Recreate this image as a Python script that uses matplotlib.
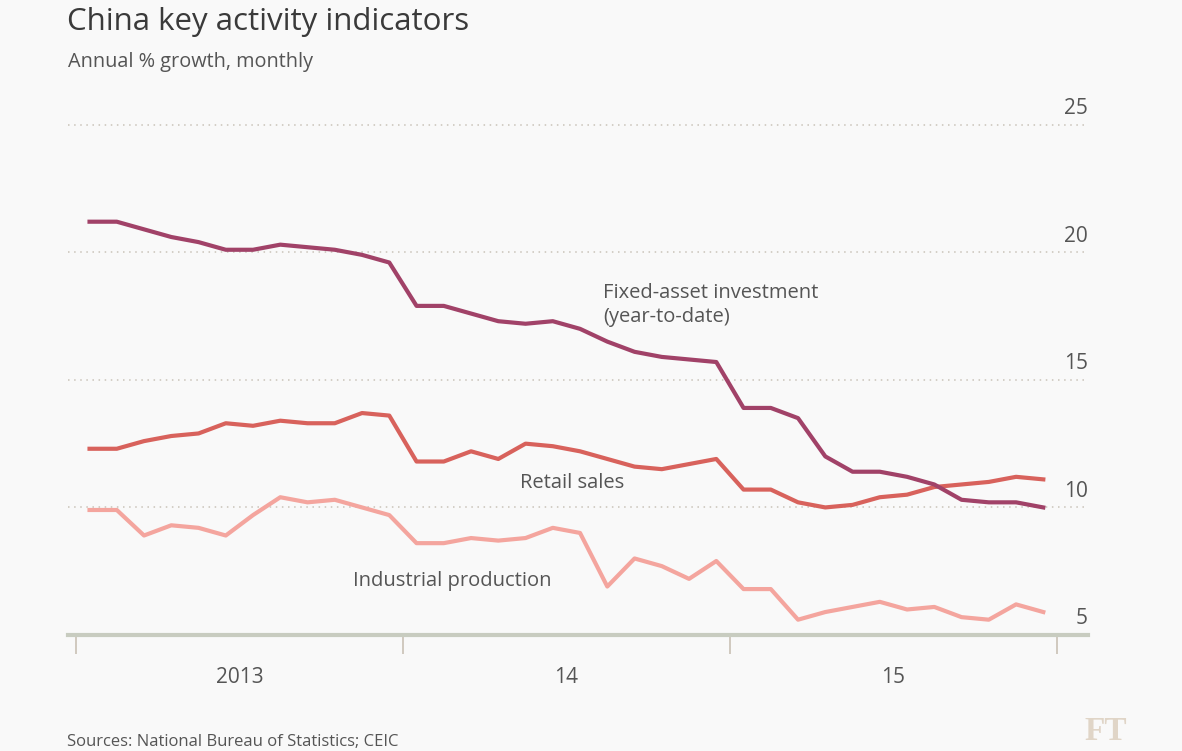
import matplotlib
matplotlib.use("Agg")
import matplotlib.pyplot as plt
import numpy as np

# monthly data, Jan 2013 - Dec 2015 (Jan/Feb reported together)
fixed_asset = [21.2, 21.2, 20.9, 20.6, 20.4, 20.1, 20.1, 20.3, 20.2, 20.1, 19.9, 19.6,
               17.9, 17.9, 17.6, 17.3, 17.2, 17.3, 17.0, 16.5, 16.1, 15.9, 15.8, 15.7,
               13.9, 13.9, 13.5, 12.0, 11.4, 11.4, 11.2, 10.9, 10.3, 10.2, 10.2, 10.0]
retail_sales = [12.3, 12.3, 12.6, 12.8, 12.9, 13.3, 13.2, 13.4, 13.3, 13.3, 13.7, 13.6,
                11.8, 11.8, 12.2, 11.9, 12.5, 12.4, 12.2, 11.9, 11.6, 11.5, 11.7, 11.9,
                10.7, 10.7, 10.2, 10.0, 10.1, 10.4, 10.5, 10.8, 10.9, 11.0, 11.2, 11.1]
industrial = [9.9, 9.9, 8.9, 9.3, 9.2, 8.9, 9.7, 10.4, 10.2, 10.3, 10.0, 9.7,
              8.6, 8.6, 8.8, 8.7, 8.8, 9.2, 9.0, 6.9, 8.0, 7.7, 7.2, 7.9,
              6.8, 6.8, 5.6, 5.9, 6.1, 6.3, 6.0, 6.1, 5.7, 5.6, 6.2, 5.9]
year_labels = ["2013", "14", "15"]
y_ticks = [5, 10, 15, 20, 25]

BG = "#f9f9f9"
TEXT = "#555555"
FAI_COL = "#a14268"
RETAIL_COL = "#d8625c"
IP_COL = "#f4a59e"

plt.rcParams["font.family"] = ["Open Sans", "DejaVu Sans"]

fig = plt.figure(figsize=(11.82, 7.51), dpi=100, facecolor=BG)
ax = fig.add_axes([68 / 1182, 1 - 635 / 751, 1020 / 1182, 523 / 751])
ax.set_facecolor(BG)

months = np.arange(len(fixed_asset))
ax.plot(months, industrial, color=IP_COL, lw=3, solid_joinstyle="round", zorder=3)
ax.plot(months, retail_sales, color=RETAIL_COL, lw=3, solid_joinstyle="round", zorder=4)
ax.plot(months, fixed_asset, color=FAI_COL, lw=3, solid_joinstyle="round", zorder=5)

ax.set_xlim(-0.79, 36.64)
ax.set_ylim(5, 25.5)

# dotted gridlines + right-hand labels
for v in y_ticks:
    if v > 5:
        ax.axhline(v, color="#c9c3b9", lw=1.1, ls=(0, (1, 3)), zorder=1)
    ax.text(1.0, v + 0.22, str(v), transform=ax.get_yaxis_transform(),
            ha="right", va="bottom", fontsize=15, color=TEXT)

ax.set_yticks([])
for s in ["top", "right", "left"]:
    ax.spines[s].set_visible(False)
ax.spines["bottom"].set_color("#c8ccc0")
ax.spines["bottom"].set_linewidth(3)

# year boundaries as ticks, year names centred between them
n_years = len(year_labels)
ax.set_xticks(np.arange(n_years + 1) * 12 - 0.5)
ax.set_xticklabels([])
ax.tick_params(axis="x", which="major", length=14, width=1.2, color="#c9c1b5", direction="out")
ax.set_xticks(np.arange(n_years) * 12 + 5.5, minor=True)
ax.set_xticklabels(year_labels, minor=True)
ax.tick_params(axis="x", which="minor", length=0, pad=23, labelsize=15, labelcolor=TEXT)

# series labels
ax.text(18.85, 18.8, "Fixed-asset investment\n(year-to-date)", fontsize=14.5,
        color=TEXT, ha="left", va="top", linespacing=1.25)
ax.text(17.7, 10.95, "Retail sales", fontsize=14.5, color=TEXT, ha="center", va="center")
ax.text(13.3, 7.1, "Industrial production", fontsize=14.5, color=TEXT, ha="center", va="center")

# titles and footer
fig.text(67 / 1182, 1 - 22 / 751, "China key activity indicators", fontsize=22.5,
         color="#3a3a3a", ha="left", va="center")
fig.text(68 / 1182, 1 - 62 / 751, "Annual % growth, monthly", fontsize=14.3,
         color=TEXT, ha="left", va="center")
fig.text(67 / 1182, 1 - 734 / 751, "Sources: National Bureau of Statistics; CEIC", fontsize=12,
         color=TEXT, ha="left", va="top")
fig.text(1106 / 1182, 1 - 716 / 751, "FT", fontsize=24, family="Liberation Serif",
         fontweight="bold", color="#e0d5c7", ha="center", va="top")

fig.savefig("out.png", dpi=100, facecolor=BG)
